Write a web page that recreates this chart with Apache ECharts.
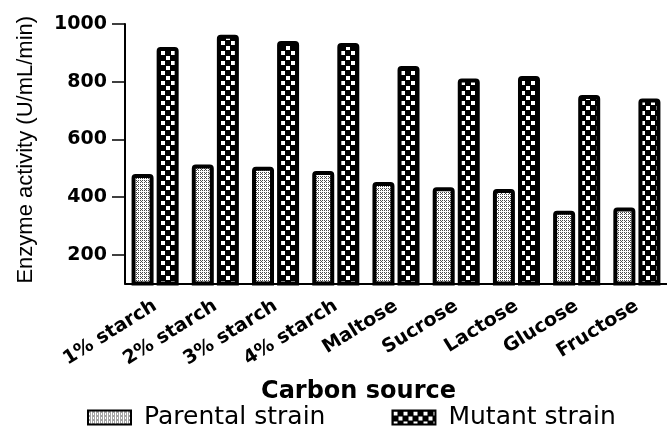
<!DOCTYPE html>
<html>
<head>
<meta charset="utf-8">
<script src="https://cdn.jsdelivr.net/npm/echarts@6/dist/echarts.min.js"></script>
<style>
  html, body { margin: 0; padding: 0; background: #fff; }
  #chart { width: 667px; height: 435px; }
</style>
</head>
<body>
<div id="chart"></div>
<script>
// Enzyme activity for each carbon source
const categories = ['1% starch', '2% starch', '3% starch', '4% starch', 'Maltose', 'Sucrose', 'Lactose', 'Glucose', 'Fructose'];
const parentalStrain = [480, 513, 505, 490, 452, 434, 428, 352, 364];
const mutantStrain = [920, 963, 941, 934, 854, 811, 820, 754, 742];
const yTickValues = [200, 400, 600, 800, 1000];

// Fill patterns for the two series
function parentalPattern() {
  const c = document.createElement('canvas');
  c.width = 4; c.height = 4;
  const g = c.getContext('2d');
  g.fillStyle = '#ffffff';
  g.fillRect(0, 0, 4, 4);
  g.fillStyle = '#4a4a4a';
  [[0, 0], [2, 0], [1, 1], [0, 2], [2, 2]].forEach(p => g.fillRect(p[0], p[1], 1, 1));
  return c;
}
function mutantPattern() {
  const c = document.createElement('canvas');
  c.width = 10; c.height = 10;
  const g = c.getContext('2d');
  g.fillStyle = '#000000';
  g.fillRect(0, 0, 10, 10);
  g.fillStyle = '#ffffff';
  g.fillRect(1, 1, 4, 4);
  g.fillRect(6, 6, 4, 4);
  return c;
}

const chart = echarts.init(document.getElementById('chart'), null, { renderer: 'canvas' });

const barCommon = {
  type: 'bar',
  barWidth: 22,
  barGap: '14%',
  clip: true
};

chart.setOption({
  animation: false,
  backgroundColor: '#ffffff',
  grid: { left: 125, top: 24, width: 545, height: 259.5, containLabel: false },
  legend: {
    data: ['Parental strain', 'Mutant strain'],
    left: 82,
    top: 400,
    icon: 'rect',
    itemWidth: 43,
    itemHeight: 14,
    itemGap: 66,
    textStyle: {
      fontFamily: 'DejaVu Sans',
      fontSize: 25,
      color: '#000',
      padding: [0, 0, 0, 8]
    }
  },
  xAxis: {
    type: 'category',
    data: categories,
    name: 'Carbon source',
    nameLocation: 'middle',
    nameGap: 96,
    nameTextStyle: {
      fontFamily: 'DejaVu Sans',
      fontWeight: 'bold',
      fontSize: 24,
      color: '#000',
      padding: [0, 75, 0, 0]
    },
    axisLine: { lineStyle: { color: '#000', width: 2 } },
    axisTick: { alignWithLabel: true, length: 8, lineStyle: { color: '#000', width: 2 } },
    axisLabel: {
      rotate: 32,
      margin: 21,
      interval: 0,
      fontFamily: 'DejaVu Sans',
      fontWeight: 'bold',
      fontSize: 19,
      color: '#000'
    }
  },
  yAxis: {
    type: 'value',
    min: 100,
    max: 1000,
    name: 'Enzyme activity (U/mL/min)',
    nameLocation: 'middle',
    nameGap: 88,
    nameTextStyle: {
      fontFamily: 'Liberation Sans',
      fontSize: 22,
      color: '#000',
      padding: [0, 0, 0, 8]
    },
    splitLine: { show: false },
    axisLine: { show: true, lineStyle: { color: '#000', width: 2 } },
    axisTick: { show: true, length: 13, customValues: yTickValues, lineStyle: { color: '#000', width: 1.5 } },
    axisLabel: {
      margin: 18,
      customValues: yTickValues,
      formatter: v => String(v),
      fontFamily: 'DejaVu Sans',
      fontWeight: 'bold',
      fontSize: 19,
      color: '#000'
    }
  },
  series: [
    Object.assign({}, barCommon, {
      name: 'Parental strain',
      data: parentalStrain,
      itemStyle: {
        color: { image: parentalPattern(), repeat: 'repeat' },
        borderColor: '#000',
        borderWidth: 4,
        borderRadius: [2, 2, 0, 0]
      }
    }),
    Object.assign({}, barCommon, {
      name: 'Mutant strain',
      data: mutantStrain,
      itemStyle: {
        color: { image: mutantPattern(), repeat: 'repeat' },
        borderColor: '#000',
        borderWidth: 4,
        borderRadius: [2, 2, 0, 0]
      }
    })
  ]
});
</script>
</body>
</html>
